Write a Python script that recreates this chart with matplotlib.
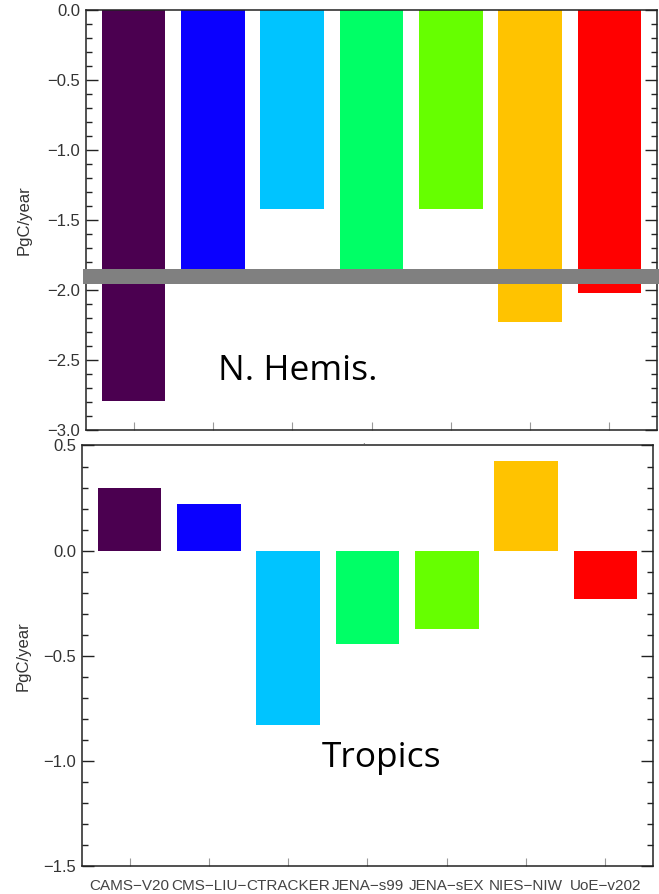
import matplotlib
matplotlib.use('Agg')
import matplotlib.pyplot as plt
from matplotlib.ticker import MultipleLocator, FuncFormatter


# model names as printed (truncated to 8 chars in the original)
models = ['CAMS\u2212V20', 'CMS\u2212LIU\u2212', 'CTRACKER', 'JENA\u2212s99',
          'JENA\u2212sEX', 'NIES\u2212NIW', 'UoE\u2212v202']
nh_flux = [-2.79, -1.96, -1.42, -1.90, -1.42, -2.23, -2.02]
tropics_flux = [0.30, 0.22, -0.83, -0.445, -0.373, 0.425, -0.232]
bar_colors = ['#4b0050', '#0a00ff', '#00c4ff', '#00ff66', '#66ff00', '#ffc300', '#ff0000']

# grey reference band in the N. Hemis. panel
band_lo, band_hi = -1.96, -1.85

TICK_FONT = 'Liberation Sans'
LABEL_FONT = 'Open Sans'


def fmt(v, pos):
    if abs(v) < 1e-9:
        v = 0.0
    return f'{v:.1f}'.replace('-', '\u2212')


def style_axis(ax, ylim, show_xlabels):
    x = range(len(models))
    ax.set_xlim(-0.6, 6.6)
    ax.set_ylim(*ylim)
    ax.yaxis.set_major_locator(MultipleLocator(0.5))
    ax.yaxis.set_minor_locator(MultipleLocator(0.1))
    ax.yaxis.set_major_formatter(FuncFormatter(fmt))
    ax.tick_params(axis='y', which='major', direction='in', length=8.5, width=1.0,
                   color='#222222', left=True, right=True, pad=4,
                   labelsize=12, labelcolor='#333333')
    ax.tick_params(axis='y', which='minor', direction='in', length=4.3, width=1.0,
                   color='#222222', left=True, right=True)
    ax.set_xticks(list(x))
    ax.tick_params(axis='x', which='major', direction='in', length=5.5, width=0.8,
                   color='#999999', bottom=True, top=False, pad=9,
                   labelsize=11, labelcolor='#444444')
    if show_xlabels:
        ax.set_xticklabels(models, fontfamily=TICK_FONT)
    else:
        ax.set_xticklabels([])
    for lab in ax.get_yticklabels():
        lab.set_fontfamily(TICK_FONT)
    for s in ax.spines.values():
        s.set_linewidth(1.1)
        s.set_color('#222222')
    ax.set_ylabel('PgC/year', fontfamily=TICK_FONT, fontsize=12, color='#333333')


fig = plt.figure(figsize=(6.59, 8.94), dpi=100)

# top panel: Northern Hemisphere
ax1 = fig.add_axes([0.1305, 0.519, 0.8665, 0.4698])
ax1.bar(range(len(models)), nh_flux, width=0.8, color=bar_colors, zorder=2)
ax1.axhspan(band_lo, band_hi, xmin=-0.006, xmax=1.004, color='#808080',
            clip_on=False, zorder=3, linewidth=0)
style_axis(ax1, (-3.0, 0.0), False)
ax1.yaxis.set_label_coords(-0.095, 0.5)
ax1.text(1.06, -2.64, 'N. Hemis.', fontfamily=LABEL_FONT, fontsize=25.5, color='black')

# bottom panel: Tropics
ax2 = fig.add_axes([0.1244, 0.0313, 0.8665, 0.4704])
ax2.bar(range(len(models)), tropics_flux, width=0.8, color=bar_colors, zorder=2)
style_axis(ax2, (-1.5, 0.5), True)
ax2.yaxis.set_label_coords(-0.09, 0.5)
ax2.text(2.42, -1.031, 'Tropics', fontfamily=LABEL_FONT, fontsize=25.5, color='black')

# stray dot between the panels in the original
fig.text(363 / 659, 1 - 441 / 894, '.', fontsize=6, color='#333333',
         ha='center', va='center')

fig.savefig('out.png', dpi=100)
